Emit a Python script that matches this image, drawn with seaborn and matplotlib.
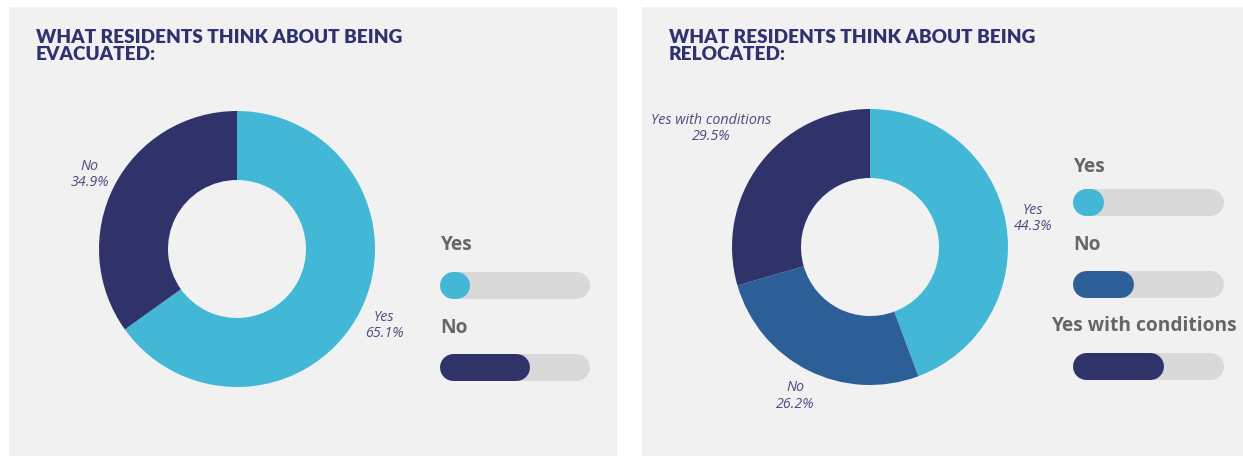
import matplotlib
matplotlib.use("Agg")
import matplotlib.pyplot as plt
from matplotlib.patches import Rectangle
import numpy as np
import seaborn as sns

# ---- data -------------------------------------------------------------
evac_categories = ["Yes", "No"]
evac_shares = [65.1, 34.9]
evac_title = "WHAT RESIDENTS THINK ABOUT BEING\nEVACUATED:"
evac_legend_fill = [0.2, 0.6]

reloc_categories = ["Yes", "No", "Yes with conditions"]
reloc_shares = [44.3, 26.2, 29.5]
reloc_title = "WHAT RESIDENTS THINK ABOUT BEING\nRELOCATED:"
reloc_legend_fill = [0.2, 0.4, 0.6]

# ---- style ------------------------------------------------------------
sns.set_theme(style="white")
plt.rcParams["font.family"] = ["Lato", "DejaVu Sans"]

W, H = 1243, 460
LIGHT = "#42b8d6"
MID = "#2c5f98"
NAVY = "#2f3369"
palette = {"Yes": LIGHT, "No": NAVY, "Yes with conditions": NAVY}
reloc_palette = {"Yes": LIGHT, "No": MID, "Yes with conditions": NAVY}
PANEL = "#f1f1f1"
TRACK = "#d9d9d9"
TITLE_C = "#2e3370"
LABEL_C = "#4b4d80"
LEGEND_C = "#666666"

fig = plt.figure(figsize=(W / 100, H / 100), dpi=100)
fig.patch.set_facecolor("white")

# full-figure canvas in pixel units for panels, titles and legend bars
bg = fig.add_axes([0, 0, 1, 1], zorder=0)
bg.set_xlim(0, W)
bg.set_ylim(H, 0)
bg.axis("off")

panels = [(9, 8, 608, 449), (642, 8, 610, 449)]
for x, y, w, h in panels:
    bg.add_patch(Rectangle((x, y), w, h, facecolor=PANEL, edgecolor="none"))


def donut(cx, cy, r, shares, cats, colors, label_r):
    ax = fig.add_axes([(cx - r) / W, (H - cy - r) / H, 2 * r / W, 2 * r / H], zorder=2)
    ax.set_facecolor("none")
    wedges, _ = ax.pie(
        shares,
        colors=[colors[c] for c in cats],
        startangle=90,
        counterclock=False,
        radius=1,
        wedgeprops=dict(width=0.5, edgecolor="none"),
    )
    ax.set_xlim(-1, 1)
    ax.set_ylim(-1, 1)
    ax.axis("off")
    for wdg, cat, val in zip(wedges, cats, shares):
        mid = np.deg2rad((wdg.theta1 + wdg.theta2) / 2)
        d = label_r.get(cat, 1.2)
        ax.text(d * np.cos(mid), d * np.sin(mid), f"{cat}\n{val:.1f}%",
                ha="center", va="center", ma="center", fontsize=10.3,
                style="italic", color=LABEL_C, linespacing=1.1,
                family=["Open Sans", "DejaVu Sans"])


def legend(x0, length, thick, rows, cats, fills, colors):
    lw = thick * 72 / 100
    half = thick / 2
    for (ty, tx, by), cat, f in zip(rows, cats, fills):
        bg.text(tx, ty, cat, ha="left", va="center", fontsize=13.8,
                fontweight="bold", color=LEGEND_C,
                family=["Open Sans", "DejaVu Sans"])
        bg.plot([x0 + half, x0 + length - half], [by, by], color=TRACK,
                lw=lw, solid_capstyle="round", zorder=3)
        end = max(x0 + half, x0 + f * length - half)
        bg.plot([x0 + half, end], [by, by], color=colors[cat],
                lw=lw, solid_capstyle="round", zorder=4)


# titles
bg.text(36, 29, evac_title, ha="left", va="top", fontsize=13.7,
        fontweight="heavy", color=TITLE_C, linespacing=1.0)
bg.text(669, 29, reloc_title, ha="left", va="top", fontsize=13.7,
        fontweight="heavy", color=TITLE_C, linespacing=1.0)

# donuts
donut(237, 250, 138, evac_shares, evac_categories, palette, {})
donut(870, 248, 138, reloc_shares, reloc_categories, reloc_palette,
      {"Yes with conditions": 1.44})

# legend bars
legend(440, 150, 27, [(245, 440, 285.5), (328, 440, 367.5)],
       evac_categories, evac_legend_fill, palette)
legend(1073, 151, 27, [(167, 1073, 202.5), (245, 1073, 285), (326, 1051, 366.5)],
       reloc_categories, reloc_legend_fill, reloc_palette)

fig.savefig("out.png", dpi=100, facecolor="white")
